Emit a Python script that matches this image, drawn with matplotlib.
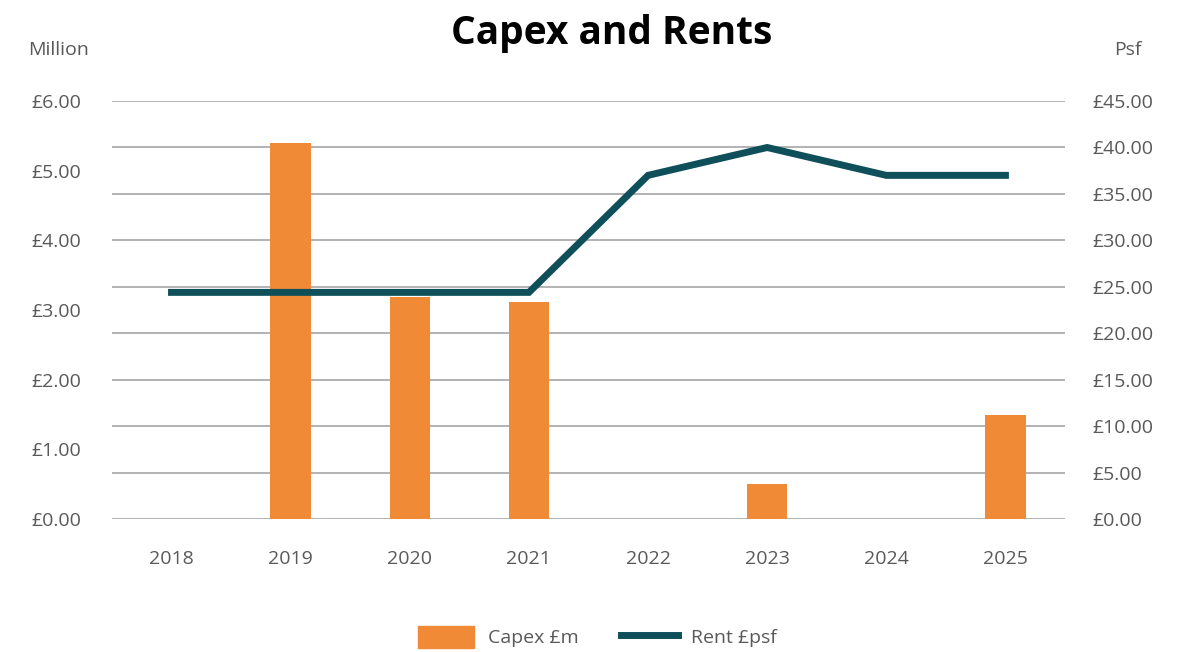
import matplotlib.pyplot as plt
import numpy as np
from matplotlib.ticker import MultipleLocator, FuncFormatter
from matplotlib.patches import Patch
from matplotlib.lines import Line2D

years = ["2018", "2019", "2020", "2021", "2022", "2023", "2024", "2025"]
capex = [0.0, 5.40, 3.19, 3.12, 0.0, 0.50, 0.0, 1.49]
rent = [24.4, 24.4, 24.4, 24.4, 37.0, 40.0, 37.0, 37.0]

orange = "#F08A36"
teal = "#0F4F5A"
grey = "#595959"

plt.rcParams["font.family"] = ["Open Sans", "DejaVu Sans"]

fig = plt.figure(figsize=(11.95, 6.52), dpi=100)
ax = fig.add_axes([0.0937, 0.204, 0.7975, 0.641])
ax2 = ax.twinx()

x = np.arange(len(years))

# gridlines follow the right axis (steps of 5)
ax2.set_ylim(0, 45)
ax2.yaxis.set_major_locator(MultipleLocator(5))
ax2.grid(True, axis="y", color="#A6A6A6", linewidth=1.2)
ax2.set_axisbelow(True)

ax.set_zorder(ax2.get_zorder() + 1)
ax.patch.set_visible(False)
ax.bar(x, capex, width=0.34, color=orange, zorder=3)
ax.set_ylim(0, 6)
ax.set_xlim(-0.5, len(years) - 0.5)
ax.yaxis.set_major_locator(MultipleLocator(1))
ax.yaxis.set_major_formatter(FuncFormatter(lambda v, p: f"£{v:.2f}"))

rent_ax = ax.twinx()
rent_ax.set_ylim(0, 45)
rent_ax.plot(x, rent, color=teal, linewidth=5, solid_joinstyle="miter", zorder=4)
rent_ax.axis("off")
ax2.yaxis.set_major_formatter(FuncFormatter(lambda v, p: f"£{v:.2f}"))

ax.set_xticks(x)
ax.set_xticklabels(years)

for a in (ax, ax2, rent_ax):
    for s in a.spines.values():
        s.set_visible(False)
ax.tick_params(axis="both", length=0, labelsize=14, labelcolor=grey)
ax.tick_params(axis="y", pad=22)
ax.tick_params(axis="x", pad=22)
ax2.tick_params(axis="y", length=0, labelsize=14, labelcolor=grey, pad=20)

fig.text(0.049, 0.923, "Million", fontsize=14, color=grey, ha="center", va="center")
fig.text(0.944, 0.923, "Psf", fontsize=14, color=grey, ha="center", va="center")
fig.text(0.512, 0.949, "Capex and Rents", fontsize=28, fontweight="bold",
         color="black", ha="center", va="center")

handles = [Patch(color=orange, label="Capex £m"),
           Line2D([0], [0], color=teal, linewidth=5, label="Rent £psf")]
fig.legend(handles=handles, loc="center", bbox_to_anchor=(0.5, 0.023), ncol=2,
           frameon=False, fontsize=14, labelcolor=grey, handlelength=2.9,
           handleheight=1.4, columnspacing=2.2, handletextpad=0.7)

fig.savefig("out.png", dpi=100)
